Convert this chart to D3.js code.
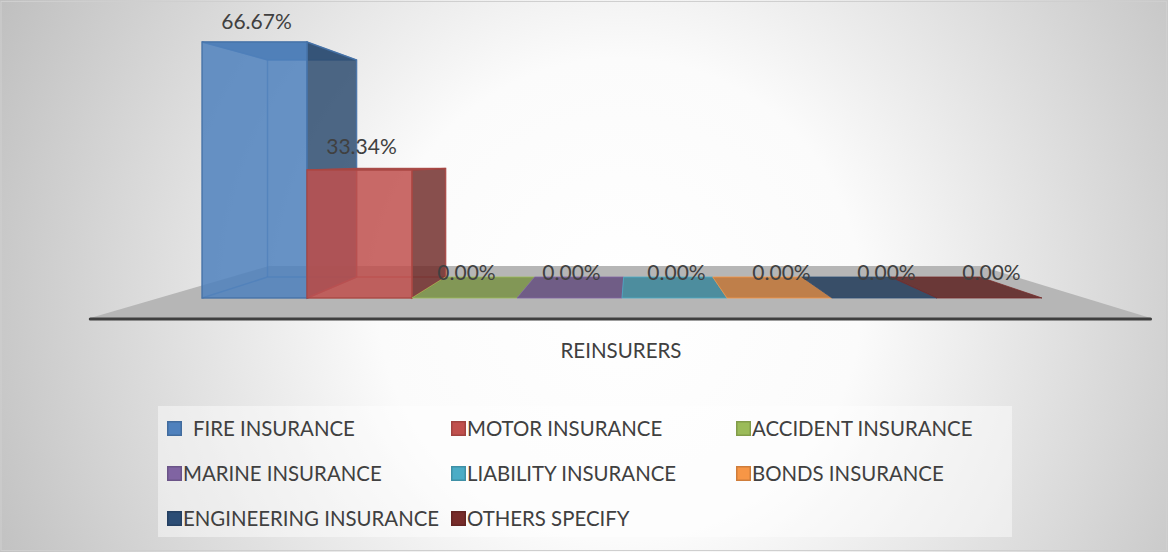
<!DOCTYPE html>
<html>
<head>
<meta charset="utf-8">
<script src="https://cdn.jsdelivr.net/npm/d3@7"></script>
<style>
  html, body { margin: 0; padding: 0; background: #fff; }
  svg { display: block; font-family: Lato, 'Open Sans', sans-serif; }
</style>
</head>
<body>
<svg id="chart" width="1168" height="552"></svg>
<script>
// data
var categoryName = 'REINSURERS';
var seriesNames = [
  'FIRE INSURANCE', 'MOTOR INSURANCE', 'ACCIDENT INSURANCE',
  'MARINE INSURANCE', 'LIABILITY INSURANCE', 'BONDS INSURANCE',
  'ENGINEERING INSURANCE', 'OTHERS SPECIFY'
];
var seriesValues = [66.67, 33.34, 0, 0, 0, 0, 0, 0];
var valueLabels = ['66.67%', '33.34%', '0.00%', '0.00%', '0.00%', '0.00%', '0.00%', '0.00%'];
var seriesColors = [
  '#4f81bd', '#c0504d', '#9bbb59', '#8064a2',
  '#4bacc6', '#f79646', '#2c4d75', '#772c2a'
];

var W = 1168, H = 552;
var svg = d3.select('#chart');

// 3d look: everything is projected toward one vanishing point
var vp = { x: 633, y: 160 };
var backDepth = 0.848;    // scale of the back face of a column
var floorFront = 1.145, floorBack = 0.768;
function proj(x, y, s) {
  return [vp.x + s * (x - vp.x), vp.y + s * (y - vp.y)];
}
function poly(pts) { return pts.map(function(p) { return p.join(','); }).join(' '); }

var x = d3.scaleBand().domain(seriesNames).range([202, 1042]).padding(0);
var y = d3.scaleLinear().domain([0, 70]).range([298, 29.2]);
var color = d3.scaleOrdinal().domain(seriesNames).range(seriesColors);

// background
var defs = svg.append('defs');
var bg = defs.append('radialGradient')
  .attr('id', 'bg')
  .attr('gradientUnits', 'userSpaceOnUse')
  .attr('cx', 620).attr('cy', 300).attr('r', 690);
bg.append('stop').attr('offset', '0%').attr('stop-color', '#ffffff');
bg.append('stop').attr('offset', '35%').attr('stop-color', '#fbfbfb');
bg.append('stop').attr('offset', '100%').attr('stop-color', '#bfbfbf');

svg.append('rect')
  .attr('width', W).attr('height', H)
  .attr('fill', 'url(#bg)');
svg.append('rect')
  .attr('x', 1).attr('y', 1.5).attr('width', W - 2.5).attr('height', H - 3)
  .attr('fill', 'none').attr('stroke', '#cfcfcf').attr('stroke-width', 1);

// floor
var y0 = y(0);
var fl = 159, fr = 1085;
svg.append('polygon')
  .attr('points', poly([proj(fl, y0, floorFront), proj(fr, y0, floorFront),
                        proj(fr, y0, floorBack), proj(fl, y0, floorBack)]))
  .attr('fill', '#b6b6b6');
var fa = proj(fl, y0, floorFront), fb = proj(fr, y0, floorFront);
svg.append('line')
  .attr('x1', fa[0]).attr('y1', fa[1] + 1)
  .attr('x2', fb[0]).attr('y2', fb[1] + 1)
  .attr('stroke', '#3f3f3f').attr('stroke-width', 3)
  .attr('stroke-linecap', 'round');

// columns
var bars = svg.append('g').attr('class', 'bars');
var alpha = 0.85;

seriesNames.forEach(function(name, i) {
  var v = seriesValues[i];
  var c = d3.color(color(name));
  var x0 = x(name), x1 = x0 + x.bandwidth();
  var yt = y(v), yb = y(0);
  var edge = c.darker(0.35).formatHex();
  var g = bars.append('g');

  if (v > 0) {
    // hidden edges seen through the glass
    var hidden = [
      [[x0, yt, backDepth], [x0, yb, backDepth]],
      [[x0, yt, backDepth], [x1, yt, backDepth]],
      [[x0, yb, backDepth], [x1, yb, backDepth]],
      [[x0, yt, 1], [x0, yt, backDepth]],
      [[x0, yb, 1], [x0, yb, backDepth]]
    ];
    hidden.forEach(function(e) {
      var a = proj.apply(null, e[0]), b = proj.apply(null, e[1]);
      g.append('line')
        .attr('x1', a[0]).attr('y1', a[1]).attr('x2', b[0]).attr('y2', b[1])
        .attr('stroke', edge).attr('stroke-width', 1.5).attr('opacity', 0.7);
    });
  }

  // top face
  g.append('polygon')
    .attr('points', poly([proj(x0, yt, 1), proj(x1, yt, 1),
                          proj(x1, yt, backDepth), proj(x0, yt, backDepth)]))
    .attr('fill', d3.rgb(c.r * 0.78, c.g * 0.78, c.b * 0.78).formatHex())
    .attr('fill-opacity', alpha)
    .attr('stroke', v > 0 ? edge : c.formatHex())
    .attr('stroke-opacity', 0.8)
    .attr('stroke-width', 1);

  if (v > 0) {
    // right side face
    g.append('polygon')
      .attr('points', poly([proj(x1, yt, 1), proj(x1, yt, backDepth),
                            proj(x1, yb, backDepth), proj(x1, yb, 1)]))
      .attr('fill', d3.rgb(c.r * 0.6, c.g * 0.6, c.b * 0.6).formatHex())
      .attr('fill-opacity', alpha)
      .attr('stroke', edge).attr('stroke-width', 1.5).attr('stroke-opacity', 0.9);

    // front face
    g.append('rect')
      .attr('x', x0).attr('y', yt)
      .attr('width', x1 - x0).attr('height', yb - yt)
      .attr('fill', c.formatHex())
      .attr('fill-opacity', alpha)
      .attr('stroke', edge).attr('stroke-width', 1.5).attr('stroke-opacity', 0.9);
  }
});

// data labels, a little closer to the top on taller columns (perspective)
svg.append('g').selectAll('text')
  .data(seriesNames)
  .enter().append('text')
    .attr('x', function(d) { return x(d) + x.bandwidth() / 2 + 2; })
    .attr('y', function(d, i) {
      var yt = y(seriesValues[i]);
      return yt - (13 + 5 * (yt - y.range()[1]) / (y(0) - y.range()[1]));
    })
    .attr('text-anchor', 'middle')
    .attr('font-size', 21)
    .attr('fill', '#404040')
    .text(function(d, i) { return valueLabels[i]; });

// category axis label
svg.append('text')
  .attr('x', 621).attr('y', 358)
  .attr('text-anchor', 'middle')
  .attr('font-size', 20.5)
  .attr('fill', '#404040')
  .text(categoryName);

// legend
var legendCols = [167, 451, 736];
var legendRows = [428, 473, 518];
var legend = svg.append('g').attr('class', 'legend');
legend.append('rect')
  .attr('x', 158).attr('y', 406).attr('width', 854).attr('height', 131)
  .attr('fill', '#ffffff').attr('fill-opacity', 0.45);

var items = legend.selectAll('g.item')
  .data(seriesNames)
  .enter().append('g')
    .attr('class', 'item')
    .attr('transform', function(d, i) {
      return 'translate(' + legendCols[i % 3] + ',' + legendRows[Math.floor(i / 3)] + ')';
    });

items.append('rect')
  .attr('x', 0.75).attr('y', -6.25)
  .attr('width', 13.5).attr('height', 13.5)
  .attr('fill', function(d) { return color(d); })
  .attr('stroke', function(d) { return d3.color(color(d)).darker(0.5); })
  .attr('stroke-width', 1.5);

items.append('text')
  .attr('x', function(d, i) { return i === 0 ? 26 : 16; })
  .attr('y', 7.5)
  .attr('font-size', 20.4)
  .attr('fill', '#404040')
  .text(function(d) { return d; });
</script>
</body>
</html>
